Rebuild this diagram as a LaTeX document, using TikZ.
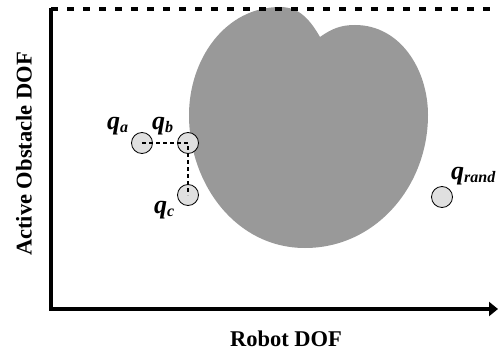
\documentclass[tikz,border=0pt]{standalone}
\usepackage{fontspec}
\setmainfont{Liberation Serif}
\usepackage{tikz}
\usetikzlibrary{positioning,calc,arrows.meta}
\definecolor{ObstacleGray}{HTML}{999999}
\definecolor{StateFill}{HTML}{E0E0E0}
\definecolor{Dark}{HTML}{000000}
\newcommand{\qsub}[1]{\raisebox{-3pt}{\fontsize{16}{16}\selectfont #1}}
\tikzset{
	axisline/.style={draw=Dark, line width=4.5pt},
	topline/.style={draw=Dark, line width=3.5pt, dash pattern=on 7pt off 9pt},
	statenode/.style={circle, draw=Dark, fill=StateFill, line width=0.8pt, minimum size=21pt, inner sep=0pt},
	pathline/.style={draw=Dark, line width=1.6pt, dash pattern=on 4pt off 3pt},
	qlabel/.style={font=\fontsize{26}{26}\selectfont\bfseries\itshape, inner sep=0pt, anchor=base west},
	axislabel/.style={font=\fontsize{22.5}{22.5}\selectfont\bfseries, inner sep=0pt}
}
\begin{document}
\begin{tikzpicture}[x=1pt,y=-1pt]
	\useasboundingbox (0,0) rectangle (498,353);
	\fill[ObstacleGray]
		(320,37) to[out=120,in=0] (280,7)
		to[out=180,in=90] (189,115)
		to[out=-90,in=180] (305,248)
		to[out=0,in=-90] (428,115)
		to[out=90,in=0] (355,25)
		to[out=180,in=35] (320,37) -- cycle;
	\coordinate (ytop) at (51,8);
	\coordinate (origin) at (51,309);
	\coordinate (xend) at (498,309);
	\coordinate (topend) at (498,9);
	\draw[topline] (51,9) -- (topend);
	\draw[axisline, line join=miter, -{Triangle[length=9pt,width=14pt]}] (ytop) -- (origin) -- (xend);
	\node[axislabel] (xlabel) at (286,339) {Robot DOF};
	\node[axislabel, rotate=90] (ylabel) at (24,154) {Active Obstacle DOF};
	\node[statenode] (qa) at (142,143) {};
	\node[statenode] (qb) at (188,143) {};
	\node[statenode] (qc) at (188,195) {};
	\node[statenode] (qrand) at (442,197) {};
	\draw[pathline] (qa.center) -- (qb.center) -- (qc.center);
	\node[qlabel] (qalabel) at (107,129) {q\qsub{a}};
	\node[qlabel] (qblabel) at (152,129) {q\qsub{b}};
	\node[qlabel] (qclabel) at (154,213) {q\qsub{c}};
	\node[qlabel] (qrandlabel) at (451,179) {q\qsub{rand}};
\end{tikzpicture}
\end{document}
